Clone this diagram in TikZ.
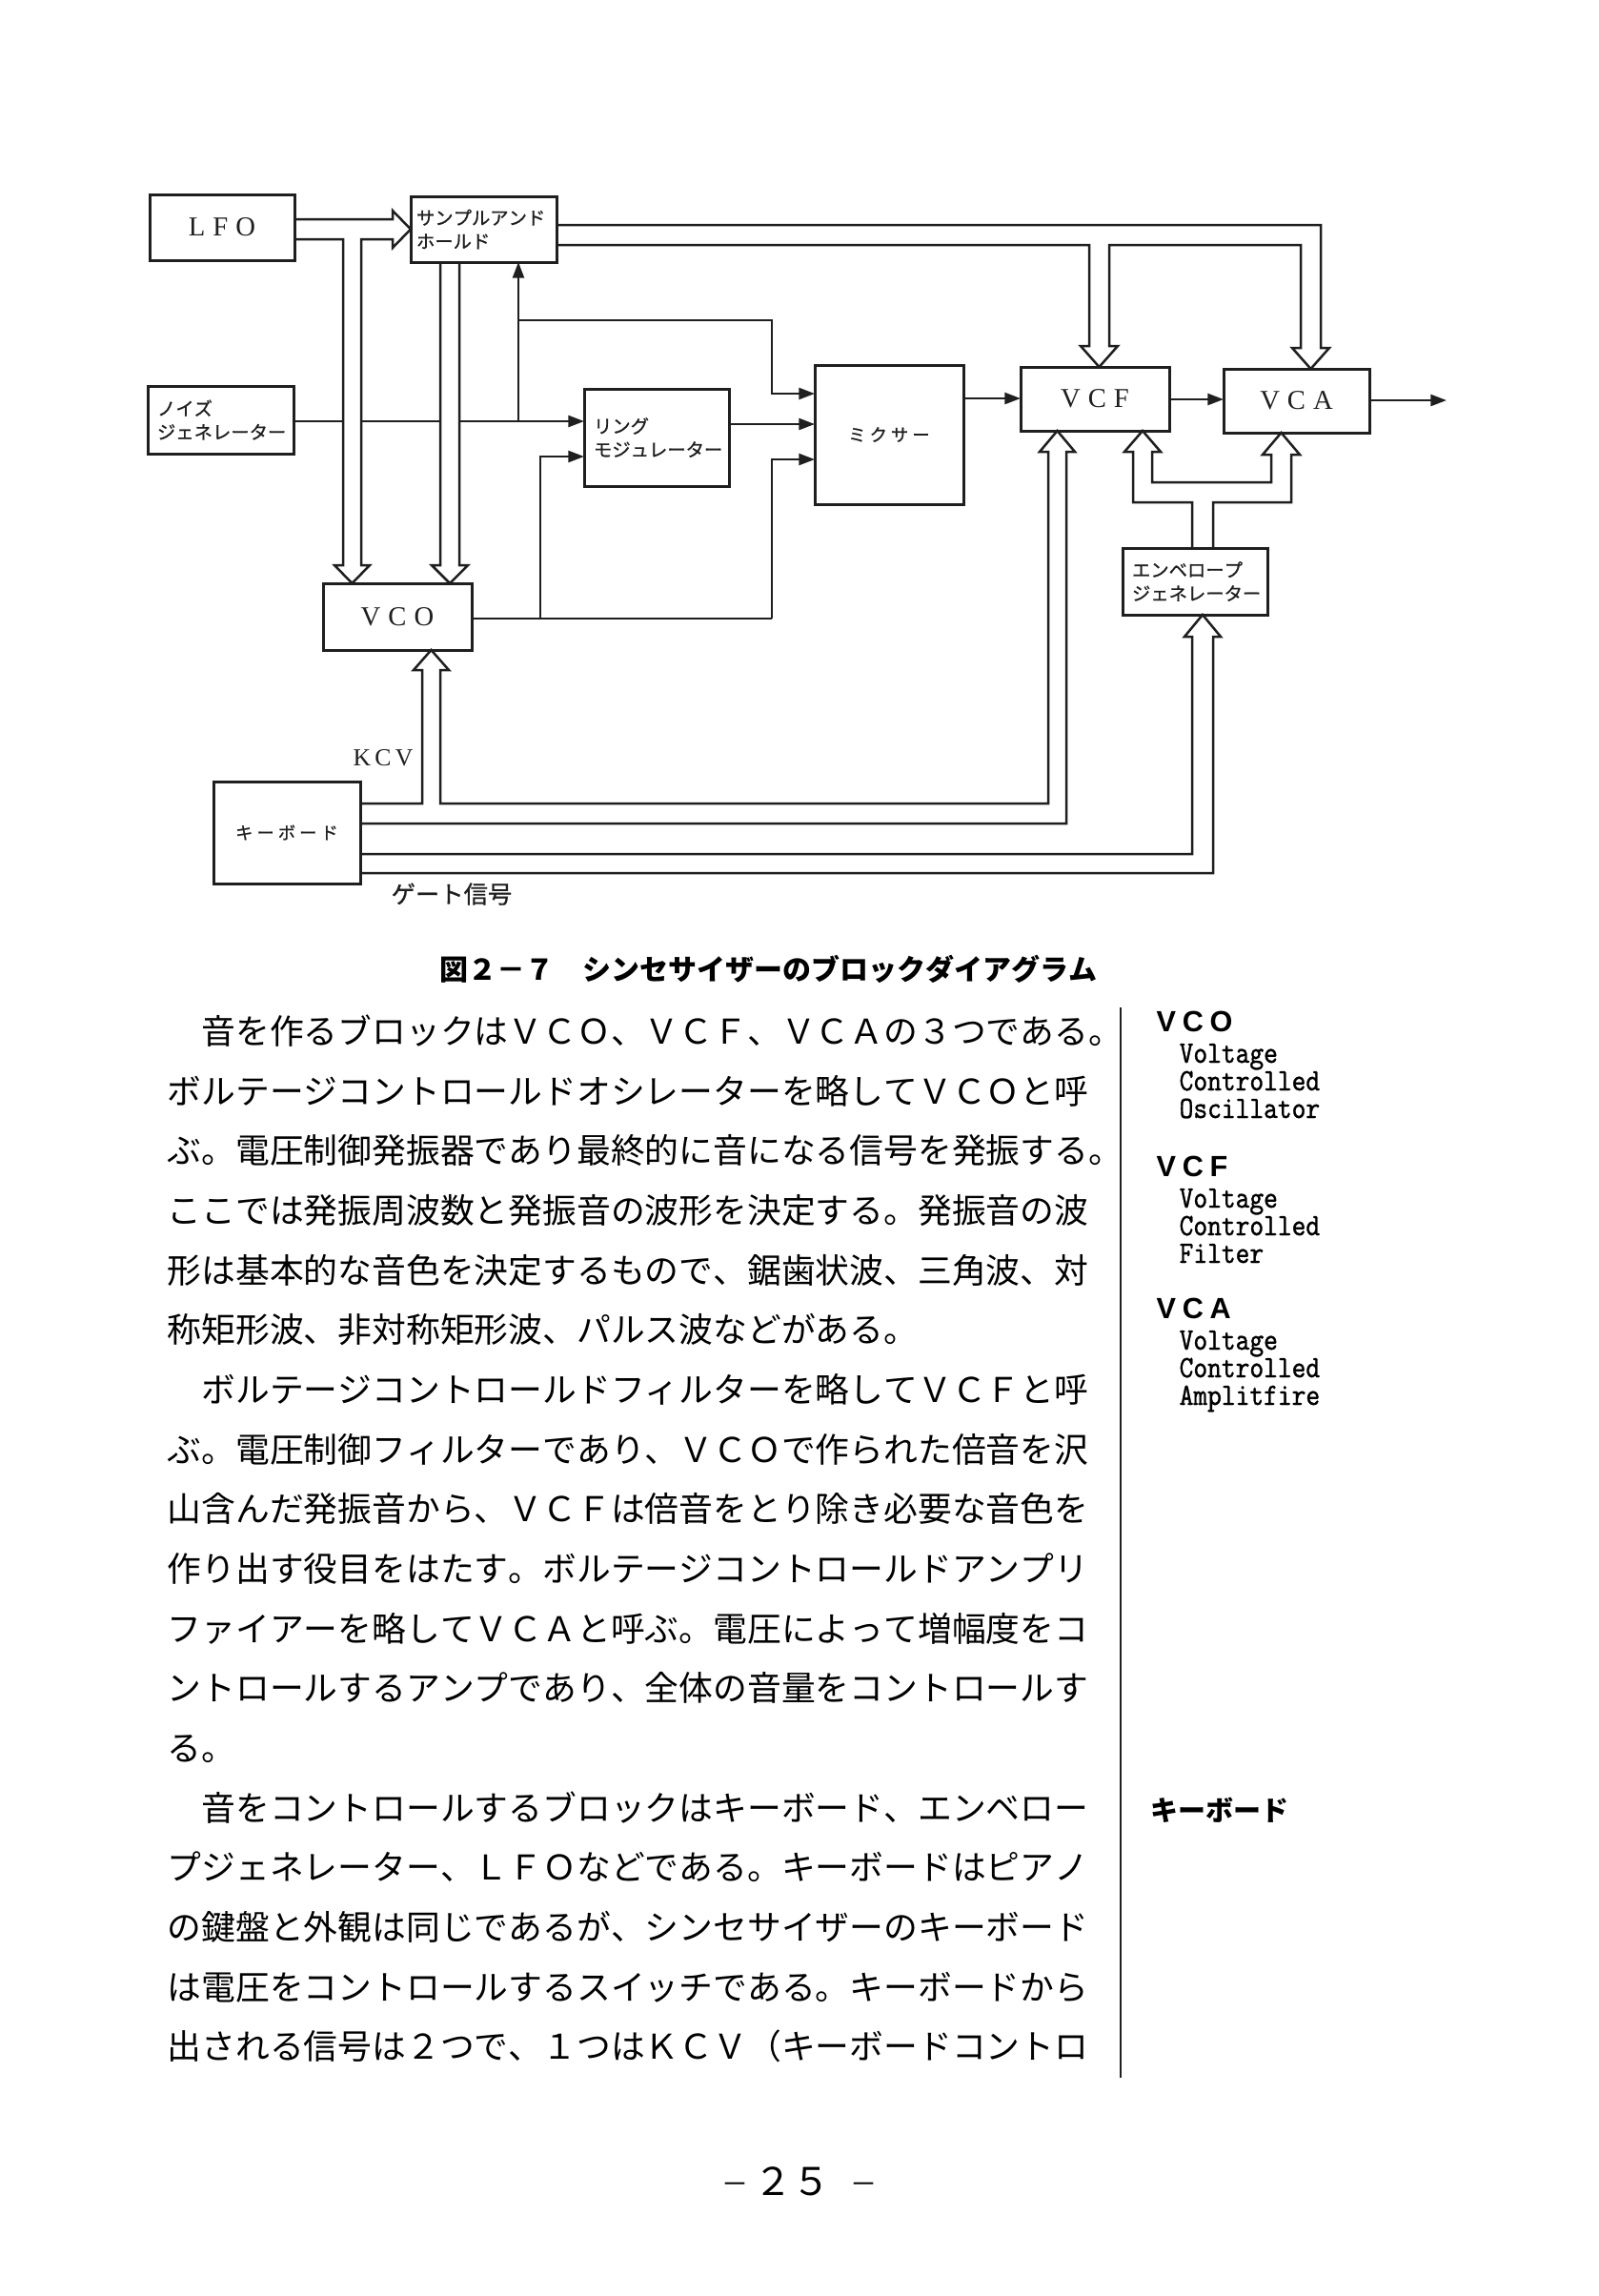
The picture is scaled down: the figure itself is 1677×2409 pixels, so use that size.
\documentclass[tikz,border=0pt]{standalone}
\usepackage{fontspec}
\usetikzlibrary{arrows.meta}
\newfontfamily\jp[Kerning=Off]{Noto Sans CJK JP}
\newfontfamily\jplab[Kerning=Off,FakeBold=0.8]{Noto Sans CJK JP}
\newfontfamily\jpwide[Kerning=Off,LetterSpace=22,FakeBold=0.8]{Noto Sans CJK JP}
\newfontfamily\lserif{Liberation Serif}
\newfontfamily\lsans{Liberation Sans}
\newfontfamily\notett[FakeStretch=0.86,FakeBold=1]{lmmono10-regular.otf}
\newcommand\ltrsp{\hspace{2.4pt}}
\colorlet{ink}{black!88}
\begin{document}
\begin{tikzpicture}[x=0.3pt,y=-0.3pt,
  box/.style={draw=ink, line width=0.9pt, inner sep=0pt, outer sep=0pt},
  lat/.style={font=\lserif\fontsize{8.6pt}{10pt}\selectfont, text=ink},
  lab/.style={font=\jplab\fontsize{5.8pt}{7.4pt}\selectfont, text=ink, align=left},
  labw/.style={font=\jpwide\fontsize{5.5pt}{7.2pt}\selectfont, text=ink},
  wire/.style={draw=ink, line width=0.75pt},
  sig/.style={wire, -{Triangle[length=5pt,width=3.6pt]}},
  bus/.style={wire, line join=miter},
  body/.style={anchor=base west, inner sep=0pt, font=\jp\fontsize{10.74pt}{12pt}\selectfont},
  notehead/.style={anchor=base west, inner sep=0pt, font=\lsans\bfseries\fontsize{9.2pt}{10pt}\selectfont},
  note/.style={anchor=base west, inner sep=0pt, font=\notett\fontsize{9.8pt}{10pt}\selectfont},
  folio/.style={anchor=base, inner sep=0pt},
]
\fill[white] (0,0) rectangle (1677,2409);
\useasboundingbox (0,0) rectangle (1677,2409);

% ---------- blocks ----------
\node[box, lat, minimum width=45.6pt, minimum height=20.7pt] (lfo) at (233,238.5) {L\ltrsp F\ltrsp O};
\node[box, lab, inner xsep=1.8pt, text width=42.3pt, minimum height=20.7pt] (sh) at (507.5,240.5) {サンプルアンド\\ホールド};
\node[box, lab, inner xsep=3pt, text width=39.9pt, minimum height=21.3pt] (noise) at (231.5,440.5) {ノイズ\\ジェネレーター};
\node[box, lab, inner xsep=3pt, text width=39.6pt, minimum height=30.6pt] (ring) at (689,459) {リング\\モジュレーター};
\node[box, labw, minimum width=46.8pt, minimum height=43.8pt] (mixer) at (933,456) {ミクサー};
\node[box, lat, minimum width=46.8pt, minimum height=20.1pt] (vcf) at (1149,418.5) {V\ltrsp C\ltrsp F};
\node[box, lat, minimum width=45.9pt, minimum height=20.1pt] (vca) at (1360.5,420.5) {V\ltrsp C\ltrsp A};
\node[box, lab, inner xsep=3pt, text width=39.6pt, minimum height=21pt] (env) at (1254,610) {エンベロープ\\ジェネレーター};
\node[box, lat, minimum width=46.8pt, minimum height=21pt] (vco) at (417,647) {V\ltrsp C\ltrsp O};
\node[box, labw, minimum width=46.2pt, minimum height=32.1pt] (kbd) at (301,873.5) {キーボード};

% ---------- single signal lines ----------
\draw[wire] (308,442) -- (360,442);
\draw[wire] (379,442) -- (462,442);
\draw[sig] (482,442) -- (613,442);
\draw[sig] (544,442) -- (544,275);
\draw[sig] (544,336) -- (810,336) -- (810,413) -- (855,413);
\draw[sig] (765,445) -- (855,445);
\draw[wire] (495,649) -- (810,649);
\draw[sig] (810,649) -- (810,482) -- (855,482);
\draw[sig] (567,649) -- (567,479) -- (613,479);
\draw[sig] (1011,418) -- (1071,418);
\draw[sig] (1227,419) -- (1284,419);
\draw[sig] (1437,420) -- (1518,420);

% ---------- control buses (hollow arrows) ----------
% LFO to sample-and-hold and VCO
\draw[bus] (309,230) -- (412,230) -- (412,221) -- (431,240.5) -- (412,260) -- (412,251)
  -- (379,251) -- (379,593) -- (388,593) -- (369.5,612) -- (351,593) -- (360,593)
  -- (360,251) -- (309,251);
% sample-and-hold to VCO
\draw[bus] (462,275) -- (462,593) -- (453,593) -- (472,612) -- (491,593) -- (482,593) -- (482,275);
% sample-and-hold to VCF and VCA
\draw[bus] (584,236) -- (1386,236) -- (1386,365) -- (1395,365) -- (1375.5,387) -- (1356,365)
  -- (1365,365) -- (1365,257) -- (1164,257) -- (1164,363) -- (1173,363) -- (1153.5,385)
  -- (1134,363) -- (1143,363) -- (1143,257) -- (584,257);
% KCV to VCO and VCF
\draw[bus] (378,843) -- (443,843) -- (443,703) -- (434,703) -- (452.5,682) -- (471,703)
  -- (462,703) -- (462,843) -- (1100,843) -- (1100,474) -- (1091,474) -- (1109.5,452)
  -- (1128,474) -- (1119,474) -- (1119,864) -- (378,864);
% gate signal to envelope generator
\draw[bus] (378,896) -- (1251,896) -- (1251,668) -- (1243,668) -- (1262,645) -- (1281,668)
  -- (1273,668) -- (1273,916) -- (378,916);
% envelope generator to VCF and VCA
\draw[bus] (1251,575) -- (1251,527) -- (1189,527) -- (1189,474) -- (1180,474) -- (1199,452)
  -- (1218,474) -- (1209,474) -- (1209,506) -- (1334,506) -- (1334,477) -- (1325,477)
  -- (1344.5,454) -- (1364,477) -- (1355,477) -- (1355,527) -- (1273,527) -- (1273,575);

\node[font=\lserif\fontsize{7.7pt}{9pt}\selectfont, text=ink, inner sep=0pt] (kcv) at (402,795) {K\hspace{1.3pt}C\hspace{1.3pt}V};
\node[font=\jplab\fontsize{7.6pt}{9pt}\selectfont, text=ink, inner sep=0pt] (gate) at (474,938) {ゲート信号};

% ---------- caption ----------
\node[anchor=base, inner sep=0pt, font=\jp\bfseries\fontsize{9pt}{10pt}\selectfont] (cap) at (806,1028)
  {図２－７　シンセサイザーのブロックダイアグラム};

% ---------- body text ----------
\node[body] (l0)  at (175,1095.6) {　音を作るブロックはＶＣＯ、ＶＣＦ、ＶＣＡの３つである。};
\node[body] (l1)  at (175,1158.3) {ボルテージコントロールドオシレーターを略してＶＣＯと呼};
\node[body] (l2)  at (175,1220.9) {ぶ。電圧制御発振器であり最終的に音になる信号を発振する。};
\node[body] (l3)  at (175,1283.6) {ここでは発振周波数と発振音の波形を決定する。発振音の波};
\node[body] (l4)  at (175,1346.2) {形は基本的な音色を決定するもので、鋸歯状波、三角波、対};
\node[body] (l5)  at (175,1408.9) {称矩形波、非対称矩形波、パルス波などがある。};
\node[body] (l6)  at (175,1471.5) {　ボルテージコントロールドフィルターを略してＶＣＦと呼};
\node[body] (l7)  at (175,1534.2) {ぶ。電圧制御フィルターであり、ＶＣＯで作られた倍音を沢};
\node[body] (l8)  at (175,1596.8) {山含んだ発振音から、ＶＣＦは倍音をとり除き必要な音色を};
\node[body] (l9)  at (175,1659.5) {作り出す役目をはたす。ボルテージコントロールドアンプリ};
\node[body] (l10) at (175,1722.1) {ファイアーを略してＶＣＡと呼ぶ。電圧によって増幅度をコ};
\node[body] (l11) at (175,1784.8) {ントロールするアンプであり、全体の音量をコントロールす};
\node[body] (l12) at (175,1847.4) {る。};
\node[body] (l13) at (175,1910.1) {　音をコントロールするブロックはキーボード、エンベロー};
\node[body] (l14) at (175,1972.7) {プジェネレーター、ＬＦＯなどである。キーボードはピアノ};
\node[body] (l15) at (175,2035.4) {の鍵盤と外観は同じであるが、シンセサイザーのキーボード};
\node[body] (l16) at (175,2098.0) {は電圧をコントロールするスイッチである。キーボードから};
\node[body] (l17) at (175,2160.7) {出される信号は２つで、１つはＫＣＶ（キーボードコントロ};

% ---------- margin notes ----------
\draw[draw=ink, line width=0.6pt] (1176,1057) -- (1176,2180);
\node[notehead] (nvco) at (1213,1082) {V\hspace{2pt}C\hspace{2pt}O};
\node[note] (nvco1) at (1237,1115) {Voltage};
\node[note] (nvco2) at (1237,1144) {Controlled};
\node[note] (nvco3) at (1237,1173) {Oscillator};
\node[notehead] (nvcf) at (1213,1234) {V\hspace{2pt}C\hspace{2pt}F};
\node[note] (nvcf1) at (1237,1267) {Voltage};
\node[note] (nvcf2) at (1237,1296) {Controlled};
\node[note] (nvcf3) at (1237,1325) {Filter};
\node[notehead] (nvca) at (1213,1383) {V\hspace{2pt}C\hspace{2pt}A};
\node[note] (nvca1) at (1237,1416) {Voltage};
\node[note] (nvca2) at (1237,1445) {Controlled};
\node[note] (nvca3) at (1237,1474) {Amplitfire};
\node[anchor=base west, inner sep=0pt, font=\jp\bfseries\fontsize{8.7pt}{10pt}\selectfont] (nkbd) at (1207,1910) {キーボード};

% ---------- page number ----------
\node[folio, font=\lserif\fontsize{12pt}{14pt}\selectfont] (pgl) at (771,2300) {–};
\node[folio, font=\jp\fontsize{12pt}{14pt}\selectfont] (pgn) at (831,2303) {２５};
\node[folio, font=\lserif\fontsize{12pt}{14pt}\selectfont] (pgr) at (906,2300) {–};
\end{tikzpicture}
\end{document}
